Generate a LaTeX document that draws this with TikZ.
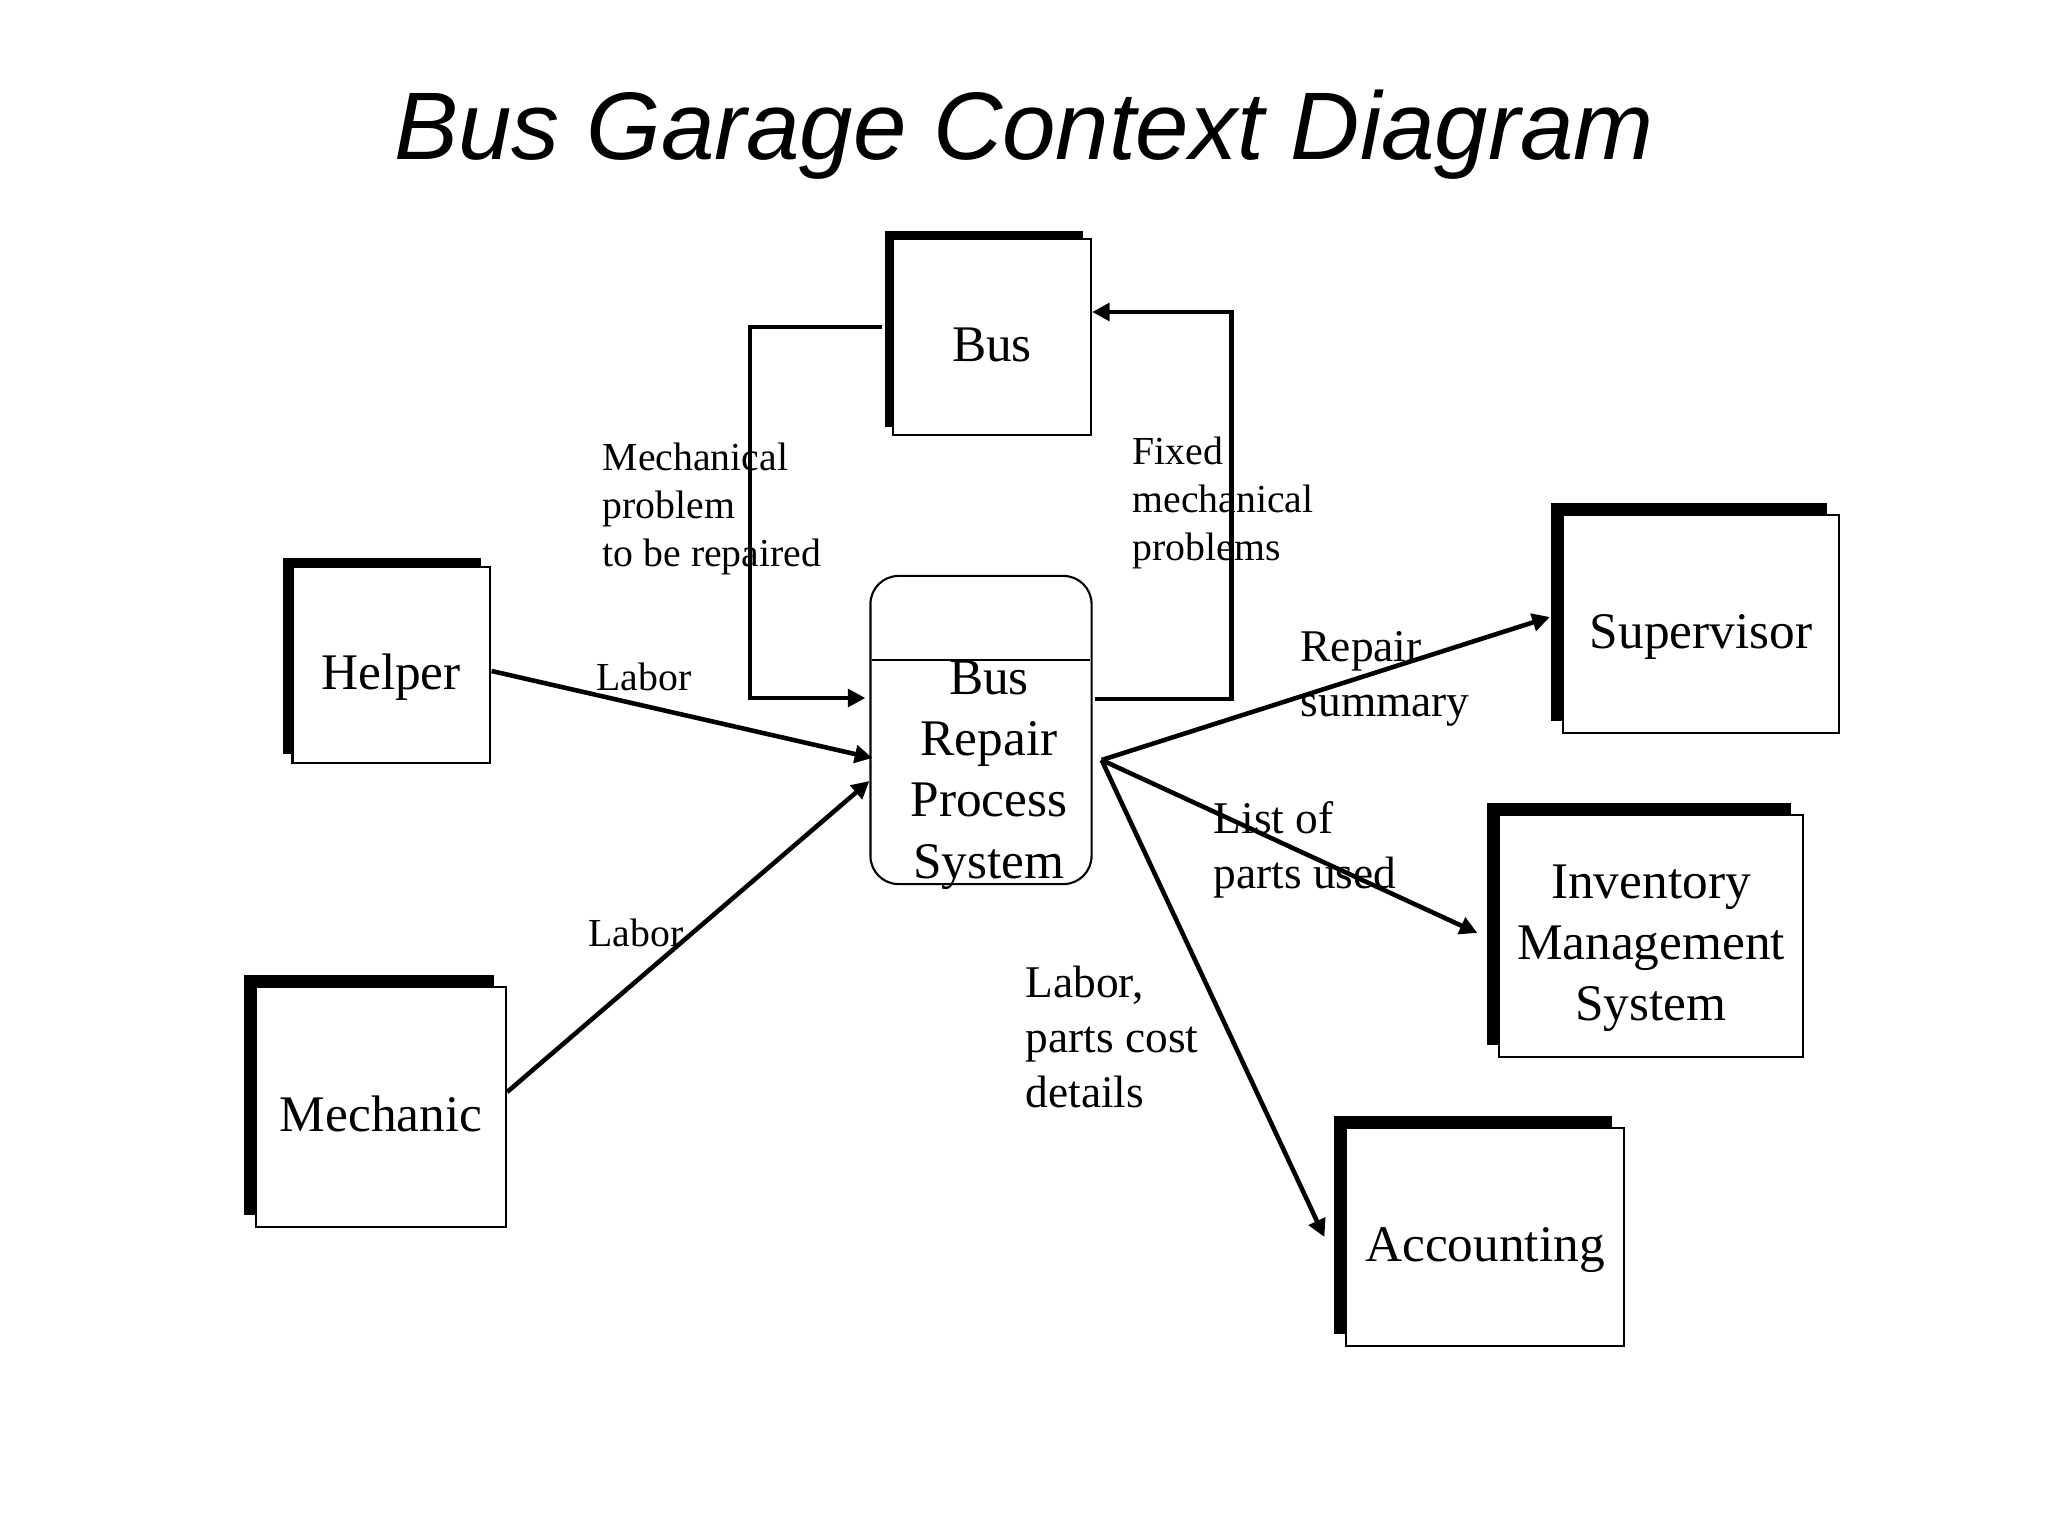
\documentclass[tikz,border=0pt]{standalone}
\usepackage{fontspec}
\setmainfont{Liberation Serif}
\newfontfamily\titlefont{Liberation Sans}
\usetikzlibrary{arrows.meta,shadows}

\begin{document}
\begin{tikzpicture}[x=0.01cm,y=-0.01cm,
    entity/.style = {draw,fill=white,line width=0.6pt,inner sep=0pt,align=center,
        font=\fontsize{14.6}{17.4}\selectfont,text height=14pt,text depth=0pt,
        drop shadow={shadow xshift=-#1,shadow yshift=#1,opacity=1,fill=black}},
    entity/.default = 0.12cm,
    process/.style = {draw,line width=0.6pt,rounded corners=8pt,inner sep=0pt},
    flow/.style = {line width=1.3pt,-{Triangle[length=5pt,width=5pt]}},
    small/.style = {inner sep=0pt,anchor=base west,align=left,font=\fontsize{11.3}{13.6}\selectfont},
    medium/.style = {inner sep=0pt,anchor=base west,align=left,font=\fontsize{12.9}{15.6}\selectfont}]
  \useasboundingbox (0,0) rectangle (2048,1536);

  \node (title) [anchor=base,font=\titlefont\itshape\fontsize{27.3}{30}\selectfont] at (1024,159) {Bus Garage Context Diagram};

  % external entities
  \node (bus) [entity=0.08cm,minimum width=1.98cm,minimum height=1.96cm] at (992,337) {Bus};
  \node (helper) [entity=0.09cm,minimum width=1.97cm,minimum height=1.96cm] at (391,665) {Helper};
  \node (mechanic) [entity,minimum width=2.5cm,minimum height=2.4cm] at (381,1107) {Mechanic};
  \node (supervisor) [entity,minimum width=2.76cm,minimum height=2.18cm] at (1701,624) {Supervisor};
  \node (inventory) [entity,text height=48pt,minimum width=3.03cm,minimum height=2.42cm] at (1651,936) {Inventory\\Management\\System};
  \node (accounting) [entity,minimum width=2.77cm,minimum height=2.18cm] at (1485,1237) {Accounting};

  % the process
  \node (proc) [process,minimum width=2.21cm,minimum height=3.08cm] at (981,730) {};
  \draw[line width=0.6pt] ([shift={(3,85)}]proc.north west) -- ([shift={(-3,85)}]proc.north east);
  \node (proctext) [font=\fontsize{14.6}{17.4}\selectfont,align=center,inner sep=0pt] at (989,775) {Bus\\Repair\\Process\\System};
  \coordinate (fork) at ([shift={(9,30)}]proc.east);

  % flows
  \draw[flow] ([shift={(-10,-10)}]bus.west) -- ++(-132,0) |- ([shift={(-4,-32)}]proc.west);
  \draw[flow] ([shift={(2,-31)}]proc.east) -- ++(137,0) |- ([shift={(0,-25)}]bus.east);
  \draw[flow] ([shift={(1,6)}]helper.east) -- ([shift={(3,28)}]proc.west);
  \draw[flow] ([shift={(0,-15)}]mechanic.east) -- ([shift={(0,51)}]proc.west);
  \draw[flow] (fork) -- ([shift={(-12,-7)}]supervisor.west);
  \draw[flow] (fork) -- ([shift={(-21,-3)}]inventory.west);
  \draw[flow] (fork) -- ([shift={(-21,0)}]accounting.west);

  % flow labels (anchored at the last line)
  \node (lmech) [small] at (602,566) {Mechanical\\problem\\to be repaired};
  \node (lfixed) [small] at (1132,560) {Fixed\\mechanical\\problems};
  \node (lhelper) [small] at (596,690) {Labor};
  \node (lmechanic) [small] at (588,946) {Labor};
  \node (lrepair) [medium] at (1300,716) {Repair\\summary};
  \node (lparts) [medium] at (1213,888) {List of\\parts used};
  \node (lcost) [medium] at (1025,1107) {Labor,\\parts cost\\details};
\end{tikzpicture}
\end{document}
